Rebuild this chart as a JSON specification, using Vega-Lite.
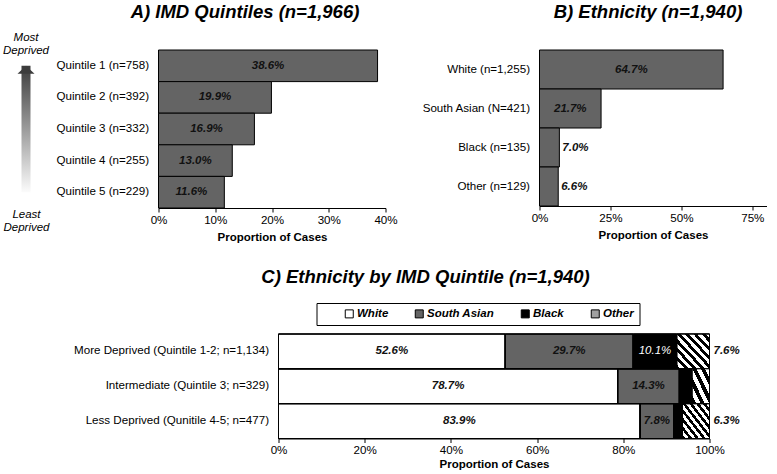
{
  "$schema": "https://vega.github.io/schema/vega-lite/v6.json",
  "background": "white",
  "padding": {"left": 2.5, "top": 3, "right": 0, "bottom": 0},
  "config": {
    "font": "Liberation Sans",
    "view": {"stroke": null},
    "axis": {"labelFont": "Liberation Sans", "labelFontSize": 11.6, "labelColor": "#000", "titleFont": "Liberation Sans", "titleFontSize": 11.5, "titleFontWeight": "bold", "titleColor": "#000", "domainColor": "#000", "tickColor": "#000", "grid": false, "labelLimit": 300},
    "axisX": {"tickSize": 4, "labelPadding": 2, "titlePadding": 6, "labelFlush": false},
    "axisY": {"ticks": false, "labelPadding": 10},
    "title": {"font": "Liberation Sans", "fontSize": 18.5, "fontStyle": "italic", "fontWeight": "bold", "color": "#000", "anchor": "middle", "frame": "group"},
    "text": {"font": "Liberation Sans", "fontSize": 11.5, "fontStyle": "italic", "fontWeight": "bold", "color": "#111"}
  },
  "spacing": 24,
  "resolve": {"scale": {"color": "independent"}, "legend": {"color": "independent"}},
  "vconcat": [
    {
      "hconcat": [
        {
          "hconcat": [
            {
              "width": 9,
              "height": 158,
              "title": {"text": ["Most", "Deprived"], "fontSize": 11.5, "fontStyle": "italic", "fontWeight": "normal", "lineHeight": 13, "offset": -6},
              "data": {"values": [{"from": 1, "to": 5}]},
              "layer": [
                {
                  "mark": {"type": "rect", "fill": {"gradient": "linear", "x1": 0, "y1": 0, "x2": 0, "y2": 1, "stops": [{"offset": 0, "color": "#3c3c3c"}, {"offset": 1, "color": "#fbfbfb"}]}},
                  "encoding": {
                    "x": {"datum": 0, "type": "quantitative", "scale": {"domain": [0, 1]}, "axis": {"title": ["Least", "Deprived"], "labels": false, "ticks": false, "domain": false, "titleFontStyle": "italic", "titleFontWeight": "normal", "titleFontSize": 11.5, "titlePadding": 0, "titleLineHeight": 13}},
                    "x2": {"datum": 1},
                    "y": {"field": "from", "type": "quantitative", "scale": {"domain": [0.55, 5.4], "reverse": true}, "axis": null},
                    "y2": {"field": "to"}
                  }
                },
                {
                  "mark": {"type": "point", "shape": "M-1,0.94L0,0L1,0.94Z", "size": 289, "filled": true, "fill": "#3c3c3c", "strokeWidth": 0, "opacity": 1},
                  "encoding": {
                    "x": {"datum": 0.5, "type": "quantitative"},
                    "y": {"field": "from", "type": "quantitative"}
                  }
                }
              ]
            },
            {
              "width": 227,
              "height": 158,
              "title": {"text": "A) IMD Quintiles (n=1,966)", "dx": -27, "offset": 28},
              "data": {"values": [
                {"quintile": "Quintile 1 (n=758)", "pct": 0.386},
                {"quintile": "Quintile 2 (n=392)", "pct": 0.199},
                {"quintile": "Quintile 3 (n=332)", "pct": 0.169},
                {"quintile": "Quintile 4 (n=255)", "pct": 0.130},
                {"quintile": "Quintile 5 (n=229)", "pct": 0.116}
              ]},
              "encoding": {
                "y": {"field": "quintile", "type": "nominal", "sort": null, "scale": {"paddingInner": 0, "paddingOuter": 0}, "axis": {"title": null}}
              },
              "layer": [
                {
                  "mark": {"type": "bar", "fill": "#646464", "stroke": "#000", "strokeWidth": 1},
                  "encoding": {
                    "x": {"field": "pct", "type": "quantitative", "scale": {"domain": [0, 0.4]}, "axis": {"values": [0, 0.1, 0.2, 0.3, 0.4], "format": ".0%", "title": "Proportion of Cases"}}
                  }
                },
                {
                  "mark": {"type": "text"},
                  "encoding": {
                    "x": {"field": "pct", "type": "quantitative", "stack": "zero", "bandPosition": 0.5},
                    "text": {"field": "pct", "type": "quantitative", "format": ".1%"}
                  }
                }
              ]
            }
          ],
          "spacing": 6
        },
        {
          "width": 227,
          "height": 156,
          "title": {"text": "B) Ethnicity (n=1,940)", "dx": -5, "offset": 28},
          "data": {"values": [
            {"eth": "White (n=1,255)", "pct": 0.647},
            {"eth": "South Asian (N=421)", "pct": 0.217},
            {"eth": "Black (n=135)", "pct": 0.070},
            {"eth": "Other (n=129)", "pct": 0.066}
          ]},
          "encoding": {
            "y": {"field": "eth", "type": "nominal", "sort": null, "scale": {"paddingInner": 0, "paddingOuter": 0}, "axis": {"title": null}}
          },
          "layer": [
            {
              "mark": {"type": "bar", "fill": "#646464", "stroke": "#000", "strokeWidth": 1},
              "encoding": {
                "x": {"field": "pct", "type": "quantitative", "scale": {"domain": [0, 0.75]}, "axis": {"values": [0, 0.25, 0.5, 0.75], "format": ".0%", "title": "Proportion of Cases"}}
              }
            },
            {
              "transform": [{"filter": "datum.pct >= 0.1"}],
              "mark": {"type": "text"},
              "encoding": {
                "x": {"field": "pct", "type": "quantitative", "stack": "zero", "bandPosition": 0.5},
                "text": {"field": "pct", "type": "quantitative", "format": ".1%"}
              }
            },
            {
              "transform": [{"filter": "datum.pct < 0.1"}],
              "mark": {"type": "text", "align": "left", "dx": 3},
              "encoding": {
                "x": {"field": "pct", "type": "quantitative"},
                "text": {"field": "pct", "type": "quantitative", "format": ".1%"}
              }
            }
          ]
        }
      ],
      "spacing": 24
    },
    {
      "resolve": {"scale": {"color": "independent"}, "legend": {"color": "independent"}},
      "spacing": 48,
      "hconcat": [
        {"width": 1, "height": 1, "data": {"values": [{}]}, "mark": {"type": "point", "opacity": 0}, "encoding": {}},
        {
          "width": 431,
          "height": 104.5,
          "title": {"text": "C) Ethnicity by IMD Quintile (n=1,940)", "dx": -68.5, "offset": 16},
          "data": {"values": [
            {"grp": "More Deprived (Quintile 1-2; n=1,134)", "eth": "White", "ord": 1, "pct": 0.526},
            {"grp": "More Deprived (Quintile 1-2; n=1,134)", "eth": "South Asian", "ord": 2, "pct": 0.297},
            {"grp": "More Deprived (Quintile 1-2; n=1,134)", "eth": "Black", "ord": 3, "pct": 0.101},
            {"grp": "More Deprived (Quintile 1-2; n=1,134)", "eth": "Other", "ord": 4, "pct": 0.076},
            {"grp": "Intermediate (Quintile 3; n=329)", "eth": "White", "ord": 1, "pct": 0.787},
            {"grp": "Intermediate (Quintile 3; n=329)", "eth": "South Asian", "ord": 2, "pct": 0.143},
            {"grp": "Intermediate (Quintile 3; n=329)", "eth": "Black", "ord": 3, "pct": 0.030},
            {"grp": "Intermediate (Quintile 3; n=329)", "eth": "Other", "ord": 4, "pct": 0.040},
            {"grp": "Less Deprived (Qunitile 4-5; n=477)", "eth": "White", "ord": 1, "pct": 0.839},
            {"grp": "Less Deprived (Qunitile 4-5; n=477)", "eth": "South Asian", "ord": 2, "pct": 0.078},
            {"grp": "Less Deprived (Qunitile 4-5; n=477)", "eth": "Black", "ord": 3, "pct": 0.020},
            {"grp": "Less Deprived (Qunitile 4-5; n=477)", "eth": "Other", "ord": 4, "pct": 0.063}
          ]},
          "encoding": {
            "y": {"field": "grp", "type": "nominal", "sort": null, "scale": {"paddingInner": 0, "paddingOuter": 0}, "axis": {"title": null}}
          },
          "layer": [
            {
              "mark": {"type": "bar", "stroke": "#000", "strokeWidth": 1},
              "encoding": {
                "x": {"field": "pct", "type": "quantitative", "stack": "zero", "scale": {"domain": [0, 1]}, "axis": {"values": [0, 0.2, 0.4, 0.6, 0.8, 1], "format": ".0%", "title": "Proportion of Cases", "titlePadding": 2}},
                "color": {
                  "field": "eth", "type": "nominal",
                  "scale": {"domain": ["White", "South Asian", "Black", "Other"], "range": ["#ffffff", "#646464", "#000000", "#a0a0a0"]},
                  "legend": {
                    "orient": "none", "legendX": 38, "legendY": -31, "direction": "horizontal",
                    "title": " ", "titleOrient": "left", "titleFontSize": 11.5, "titlePadding": 22,
                    "padding": 5, "strokeColor": "#000",
                    "symbolType": "square", "symbolSize": 64, "symbolStrokeColor": "#000", "symbolStrokeWidth": 1,
                    "labelFont": "Liberation Sans", "labelFontSize": 11.5, "labelFontStyle": "italic", "labelFontWeight": "bold", "labelColor": "#000",
                    "labelOffset": 2, "columnPadding": 24
                  }
                },
                "order": {"field": "ord", "type": "quantitative"}
              }
            },
            {
              "mark": {"type": "bar", "stroke": "#000", "strokeWidth": 1, "fill": {"gradient": "linear", "x1": 0, "y1": 1, "x2": 1, "y2": 0, "stops": [
                {"offset": 0, "color": "#000"}, {"offset": 0.06, "color": "#000"}, {"offset": 0.06, "color": "#fff"}, {"offset": 0.125, "color": "#fff"},
                {"offset": 0.125, "color": "#000"}, {"offset": 0.185, "color": "#000"}, {"offset": 0.185, "color": "#fff"}, {"offset": 0.25, "color": "#fff"},
                {"offset": 0.25, "color": "#000"}, {"offset": 0.31, "color": "#000"}, {"offset": 0.31, "color": "#fff"}, {"offset": 0.375, "color": "#fff"},
                {"offset": 0.375, "color": "#000"}, {"offset": 0.435, "color": "#000"}, {"offset": 0.435, "color": "#fff"}, {"offset": 0.5, "color": "#fff"},
                {"offset": 0.5, "color": "#000"}, {"offset": 0.56, "color": "#000"}, {"offset": 0.56, "color": "#fff"}, {"offset": 0.625, "color": "#fff"},
                {"offset": 0.625, "color": "#000"}, {"offset": 0.685, "color": "#000"}, {"offset": 0.685, "color": "#fff"}, {"offset": 0.75, "color": "#fff"},
                {"offset": 0.75, "color": "#000"}, {"offset": 0.81, "color": "#000"}, {"offset": 0.81, "color": "#fff"}, {"offset": 0.875, "color": "#fff"},
                {"offset": 0.875, "color": "#000"}, {"offset": 0.935, "color": "#000"}, {"offset": 0.935, "color": "#fff"}, {"offset": 1, "color": "#fff"}
              ]}},
              "encoding": {
                "x": {"field": "pct", "type": "quantitative", "stack": "zero"},
                "detail": {"field": "eth"},
                "order": {"field": "ord", "type": "quantitative"},
                "fillOpacity": {"condition": {"test": "datum.eth === 'Other' && datum.pct >= 0.05", "value": 1}, "value": 0}
              }
            },
            {
              "mark": {"type": "bar", "stroke": "#000", "strokeWidth": 1, "fill": {"gradient": "linear", "x1": 0, "y1": 1, "x2": 1, "y2": 0, "stops": [
                {"offset": 0, "color": "#000"}, {"offset": 0.12, "color": "#000"}, {"offset": 0.12, "color": "#fff"}, {"offset": 0.25, "color": "#fff"},
                {"offset": 0.25, "color": "#000"}, {"offset": 0.37, "color": "#000"}, {"offset": 0.37, "color": "#fff"}, {"offset": 0.5, "color": "#fff"},
                {"offset": 0.5, "color": "#000"}, {"offset": 0.62, "color": "#000"}, {"offset": 0.62, "color": "#fff"}, {"offset": 0.75, "color": "#fff"},
                {"offset": 0.75, "color": "#000"}, {"offset": 0.87, "color": "#000"}, {"offset": 0.87, "color": "#fff"}, {"offset": 1, "color": "#fff"}
              ]}},
              "encoding": {
                "x": {"field": "pct", "type": "quantitative", "stack": "zero"},
                "detail": {"field": "eth"},
                "order": {"field": "ord", "type": "quantitative"},
                "fillOpacity": {"condition": {"test": "datum.eth === 'Other' && datum.pct < 0.05", "value": 1}, "value": 0}
              }
            },
            {
              "mark": {"type": "text"},
              "encoding": {
                "x": {"field": "pct", "type": "quantitative", "stack": "zero", "bandPosition": 0.5},
                "detail": {"field": "eth"},
                "order": {"field": "ord", "type": "quantitative"},
                "text": {"condition": {"test": "datum.eth === 'Black' || datum.eth === 'Other' || datum.pct < 0.05", "value": ""}, "field": "pct", "type": "quantitative", "format": ".1%"}
              }
            },
            {
              "mark": {"type": "text", "fontWeight": "normal", "color": "#fff"},
              "encoding": {
                "x": {"field": "pct", "type": "quantitative", "stack": "zero", "bandPosition": 0.5},
                "detail": {"field": "eth"},
                "order": {"field": "ord", "type": "quantitative"},
                "text": {"condition": {"test": "datum.eth !== 'Black' || datum.pct < 0.05", "value": ""}, "field": "pct", "type": "quantitative", "format": ".1%"}
              }
            },
            {
              "transform": [{"filter": "datum.eth === 'Other' && datum.pct >= 0.05"}],
              "mark": {"type": "text", "align": "left", "dx": 4},
              "encoding": {
                "x": {"datum": 1, "type": "quantitative"},
                "text": {"field": "pct", "type": "quantitative", "format": ".1%"}
              }
            }
          ]
        }
      ]
    }
  ]
}
